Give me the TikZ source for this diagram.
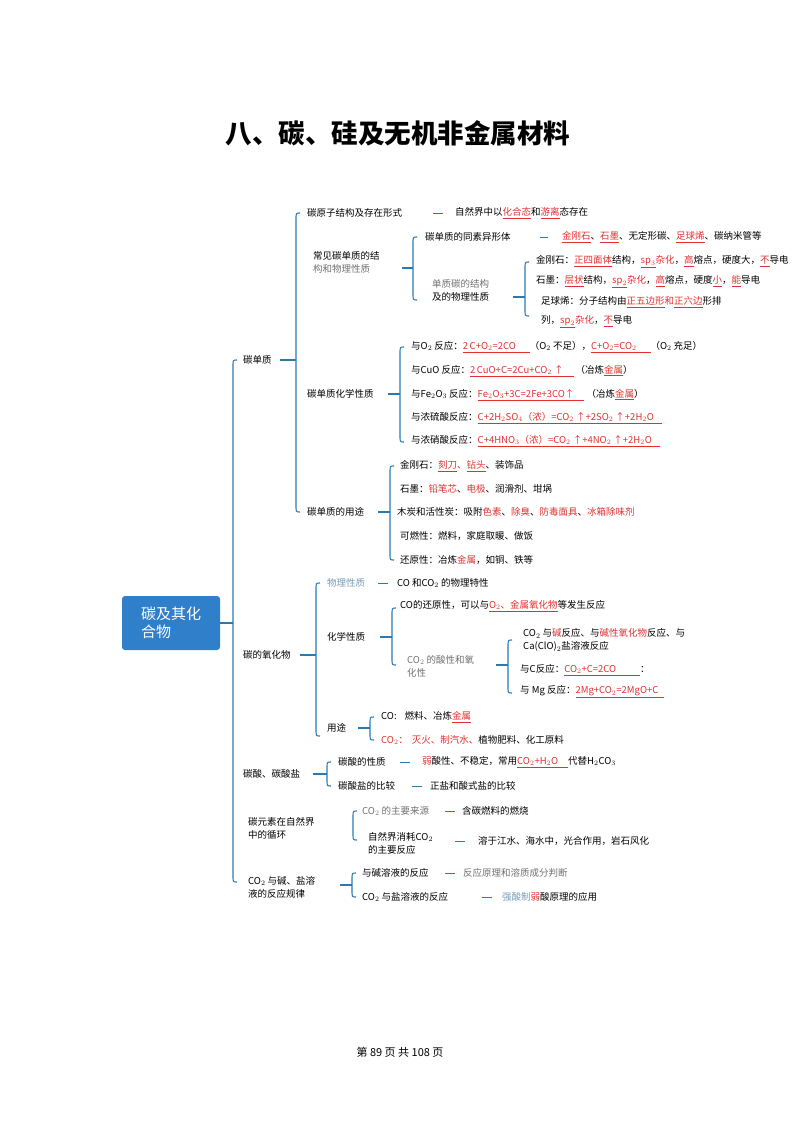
\documentclass[tikz,border=0pt]{standalone}
\usepackage{fontspec}
\setmainfont{Noto Sans CJK SC}
\definecolor{rd}{HTML}{E03030}
\definecolor{bl}{HTML}{2A7AB0}
\definecolor{rb}{HTML}{2F7FCB}
\definecolor{gy}{HTML}{707070}
\definecolor{lb}{HTML}{7A9AB5}
\newcommand{\rr}[1]{\textcolor{rd}{\underline{#1}}}
\newcommand{\rc}[1]{\textcolor{rd}{#1}}
\newcommand{\brk}[5]{% x, top, bottom, mid, stub-left
  \draw[brk] (#1+4,#2) .. controls (#1,#2) .. (#1,#2+6) -- (#1,#3-6) .. controls (#1,#3) .. (#1+4,#3);
  \draw[brk] (#5,#4) -- (#1,#4);}
\begin{document}
\begin{tikzpicture}[x=1pt,y=-1pt,
  t/.style={anchor=west,inner sep=0pt,font=\fontsize{9.5}{13}\selectfont,align=left},
  brk/.style={draw=bl,line width=1.1pt},
  dsh/.style={draw=bl,line width=0.9pt}]
\useasboundingbox (0,0) rectangle (800,1131);
\node[font=\bfseries\fontsize{26.5}{30}\selectfont] (title) at (398,133) {八、碳、硅及无机非金属材料};
\node[fill=rb,rounded corners=3pt,minimum width=98pt,minimum height=54pt,text=white,font=\fontsize{15}{18}\selectfont,align=left] (root) at (171,623) {碳及其化\\合物};
% main bracket
\brk{233}{360}{882}{623}{220}
\node[t] (a1) at (243,360) {碳单质};
\node[t] (a2) at (243,655) {碳的氧化物};
\node[t] (a3) at (243,774) {碳酸、碳酸盐};
\node[t] (a4) at (248,828) {碳元素在自然界\\中的循环};
\node[t] (a5) at (248,887) {CO$_2$ 与碱、盐溶\\液的反应规律};
% 碳单质
\brk{296}{213}{512}{360}{280}
\node[t] (b1) at (307,213) {碳原子结构及存在形式};
\draw[dsh] (433,213)--(443,213);
\node[t] (b1t) at (455,213) {自然界中以\rr{化合态}和\rr{游离}态存在};
\node[t] (b2) at (313,262) {常见碳单质的结\\\textcolor{gy}{构和物理性质}};
\brk{413}{237}{300}{268}{402}
\node[t] (c1) at (425,237) {碳单质的同素异形体};
\draw[dsh] (540,237)--(548,237);
\node[t] (c1t) at (562,237) {\rr{金刚石}、\rr{石墨}、无定形碳、\rr{足球烯}、碳纳米管等};
\node[t] (c2) at (432,290) {\textcolor{gy}{单质碳的结构}\\及的物理性质};
\brk{525}{262}{316}{297}{513}
\node[t] (d1) at (536,262) {金刚石：\rr{正四面体}结构，\rr{sp$_3$}\rc{杂化}，\rr{高}熔点，硬度大，\rr{不}导电};
\node[t] (d2) at (536,282) {石墨：\rr{层状}结构，\rr{sp$_2$}\rc{杂化}，\rr{高}熔点，硬度\rr{小}，\rr{能}导电};
\node[t] (d3) at (541,302) {足球烯：分子结构由\rr{正五边形}\rc{和}\rr{正六边}形排};
\node[t] (d4) at (541,322) {列，\rr{sp$_2$}\rc{杂化}，\rr{不}导电};
\node[t] (b3) at (307,394) {碳单质化学性质};
\brk{400}{347}{442}{394}{388}
\node[t] (e1) at (411,347) {与O$_2$ 反应：\rr{2\,C+O$_2$=2CO\hspace{14pt}}（O$_2$ 不足），\rr{C+O$_2$=CO$_2$\hspace{14pt}}（O$_2$ 充足）};
\node[t] (e2) at (411,371) {与CuO 反应：\rr{2\,CuO+C=2Cu+CO$_2$ ↑\hspace{10pt}} （冶炼\rr{金属}）};
\node[t] (e3) at (411,395) {与Fe$_2$O$_3$ 反应：\rr{Fe$_2$O$_3$+3C=2Fe+3CO↑\hspace{10pt}} （冶炼\rr{金属}）};
\node[t] (e4) at (411,418) {与浓硫酸反应：\rr{C+2H$_2$SO$_4$（浓）=CO$_2$ ↑+2SO$_2$ ↑+2H$_2$O\hspace{8pt}}};
\node[t] (e5) at (411,441) {与浓硝酸反应：\rr{C+4HNO$_3$（浓）=CO$_2$ ↑+4NO$_2$ ↑+2H$_2$O\hspace{8pt}}};
\node[t] (b4) at (307,512) {碳单质的用途};
\brk{390}{466}{560}{512}{378}
\node[t] (f1) at (400,466) {金刚石：\rr{刻刀}\rc{、}\rr{钻头}、装饰品};
\node[t] (f2) at (400,489) {石墨：\rc{铅笔芯}、\rc{电极}、润滑剂、坩埚};
\node[t] (f3) at (397,512) {木炭和活性炭：吸附\rc{色素}、\rc{除臭}、\rc{防毒面具}、\rc{冰箱除味剂}};
\node[t] (f4) at (400,536) {可燃性：燃料，家庭取暖、做饭};
\node[t] (f5) at (400,560) {还原性：冶炼\rc{金属}，如铜、铁等};
% 碳的氧化物
\brk{316}{583}{736}{655}{300}
\node[t] (g1) at (327,583) {\textcolor{lb}{物理性质}};
\draw[dsh] (378,583)--(388,583);
\node[t] (g1t) at (397,583) {CO 和CO$_2$ 的物理特性};
\node[t] (g2) at (327,637) {化学性质};
\brk{392}{608}{665}{637}{380}
\node[t] (h1) at (400,606) {CO的还原性，可以与\rr{O$_2$、金属氧化物}等发生反应};
\node[t] (h2) at (407,666) {\textcolor{gy}{CO$_2$ 的酸性和氧}\\\textcolor{gy}{化性}};
\brk{508}{640}{693}{665}{496}
\node[t] (i1) at (523,640) {CO$_2$ 与\rc{碱}反应、与\rc{碱性氧化物}反应、与\\Ca(ClO)$_2$盐溶液反应};
\node[t] (i2) at (520,670) {与C反应：\rr{CO$_2$+C=2CO\hspace{24pt}}：};
\node[t] (i3) at (520,692) {与 Mg 反应：\rr{2Mg+CO$_2$=2MgO+C\hspace{6pt}}};
\node[t] (g3) at (327,728) {用途};
\brk{370}{717}{740}{728}{358}
\node[t] (j1) at (381,717) {CO:\hspace{8pt}燃料、冶炼\rr{金属}};
\node[t] (j2) at (381,740) {\rc{CO$_2$：\hspace{4pt}灭火、制汽水、}植物肥料、化工原料};
% 碳酸
\brk{327}{762}{786}{774}{313}
\node[t] (k1) at (338,762) {碳酸的性质};
\draw[dsh] (400,762)--(410,762);
\node[t] (k1t) at (422,762) {\rc{弱}酸性、不稳定，常用\rr{CO$_2$+H$_2$O\hspace{10pt}}代替H$_2$CO$_3$};
\node[t] (k2) at (338,786) {碳酸盐的比较};
\draw[dsh] (412,786)--(422,786);
\node[t] (k2t) at (430,786) {正盐和酸式盐的比较};
% 循环
\brk{353}{811}{840}{826}{353}
\node[t] (l1) at (362,811) {\textcolor{gy}{CO$_2$ 的主要来源}};
\draw[dsh] (445,811)--(455,811);
\node[t] (l1t) at (462,811) {含碳燃料的燃烧};
\node[t] (l2) at (368,843) {自然界消耗CO$_2$\\的主要反应};
\draw[dsh] (455,841)--(465,841);
\node[t] (l2t) at (478,841) {溶于江水、海水中，光合作用，岩石风化};
% CO2 与碱
\brk{352}{873}{897}{885}{340}
\node[t] (m1) at (362,873) {与碱溶液的反应};
\draw[dsh] (445,873)--(455,873);
\node[t] (m1t) at (463,873) {\textcolor{gy}{反应原理和溶质成分判断}};
\node[t] (m2) at (362,897) {CO$_2$ 与盐溶液的反应};
\draw[dsh] (482,897)--(492,897);
\node[t] (m2t) at (502,897) {\textcolor{lb}{强酸制}\rc{弱}酸原理的应用};
\node[font=\fontsize{11}{13}\selectfont] (foot) at (400,1052) {第 89 页 共 108 页};
\end{tikzpicture}
\end{document}
